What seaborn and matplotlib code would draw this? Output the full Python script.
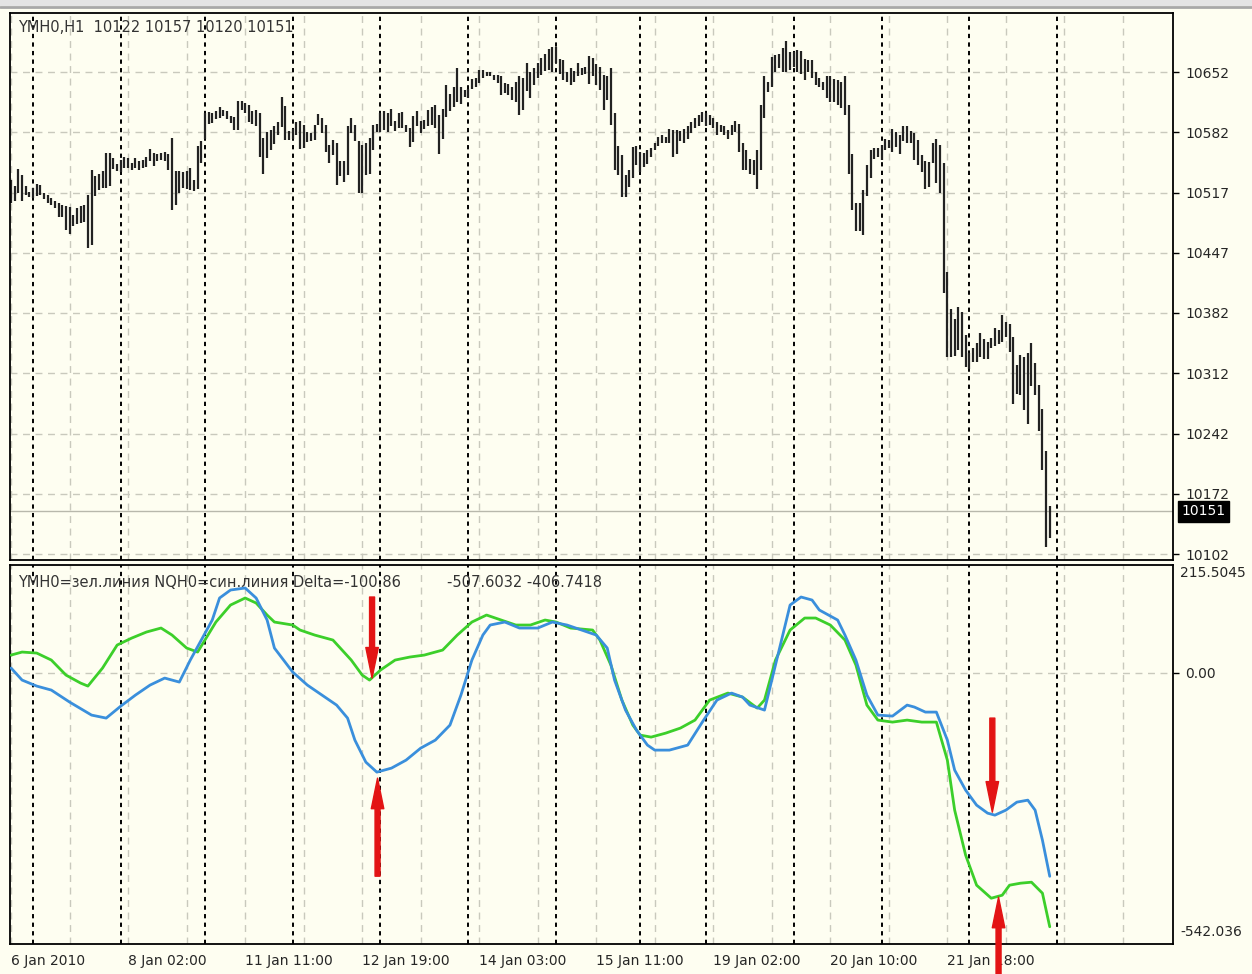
import numpy as np
import matplotlib
matplotlib.use('Agg')
import matplotlib.pyplot as plt
import matplotlib.transforms as mtransforms
import seaborn as sns

# ---------------------------------------------------------------------------
# data
# ---------------------------------------------------------------------------
# H1 bars of YMH0, one value per bar (bar index = position on the time axis)
bar_high = [
    10529, 10522, 10541, 10535, 10522, 10515, 10520, 10524, 10523, 10514,
    10512, 10508, 10505, 10502, 10500, 10499, 10498, 10489, 10497, 10499,
    10500, 10512, 10540, 10533, 10536, 10539, 10560, 10560, 10554, 10547,
    10552, 10555, 10554, 10548, 10554, 10550, 10552, 10555, 10564, 10560,
    10558, 10560, 10561, 10558, 10577, 10539, 10539, 10538, 10539, 10542,
    10529, 10567, 10573, 10605, 10606, 10605, 10608, 10612, 10609, 10607,
    10602, 10601, 10619, 10619, 10617, 10614, 10608, 10609, 10605, 10577,
    10584, 10586, 10590, 10595, 10623, 10613, 10585, 10587, 10595, 10596,
    10592, 10583, 10582, 10591, 10604, 10600, 10592, 10569, 10574, 10571,
    10550, 10550, 10590, 10600, 10591, 10573, 10569, 10571, 10577, 10591,
    10593, 10605, 10608, 10605, 10610, 10596, 10605, 10606, 10592, 10588,
    10602, 10608, 10596, 10597, 10609, 10612, 10614, 10603, 10610, 10637,
    10627, 10635, 10656, 10635, 10631, 10633, 10644, 10645, 10654, 10654,
    10652, 10652, 10649, 10649, 10648, 10639, 10638, 10635, 10641, 10648,
    10645, 10662, 10652, 10656, 10662, 10668, 10673, 10678, 10680, 10680,
    10667, 10666, 10652, 10656, 10653, 10662, 10657, 10658, 10670, 10668,
    10661, 10658, 10649, 10647, 10656, 10605, 10567, 10557, 10534, 10540,
    10566, 10567, 10561, 10560, 10563, 10565, 10571, 10578, 10580, 10578,
    10587, 10586, 10586, 10585, 10587, 10590, 10595, 10600, 10603, 10606,
    10605, 10603, 10600, 10595, 10591, 10590, 10586, 10591, 10596, 10593,
    10571, 10563, 10553, 10552, 10563, 10614, 10648, 10641, 10669, 10671,
    10673, 10679, 10687, 10675, 10675, 10677, 10676, 10667, 10666, 10666,
    10652, 10645, 10641, 10647, 10648, 10644, 10643, 10641, 10648, 10614,
    10558, 10502, 10502, 10517, 10546, 10563, 10565, 10565, 10569, 10576,
    10574, 10587, 10583, 10580, 10590, 10590, 10585, 10582, 10574, 10557,
    10550, 10549, 10571, 10576, 10569, 10548, 10424, 10381, 10370, 10384,
    10378, 10352, 10331, 10337, 10343, 10354, 10347, 10344, 10348, 10360,
    10358, 10375, 10367, 10364, 10350, 10318, 10329, 10327, 10331, 10343,
    10320, 10295, 10268, 10219, 10157,
]
bar_low = [
    10502, 10505, 10514, 10505, 10512, 10509, 10508, 10510, 10512, 10507,
    10502, 10500, 10497, 10486, 10486, 10472, 10467, 10476, 10479, 10480,
    10481, 10451, 10455, 10511, 10517, 10520, 10520, 10522, 10541, 10539,
    10538, 10543, 10543, 10540, 10542, 10540, 10543, 10544, 10550, 10545,
    10551, 10552, 10551, 10540, 10495, 10500, 10514, 10520, 10519, 10517,
    10516, 10519, 10548, 10575, 10593, 10594, 10598, 10600, 10602, 10598,
    10594, 10586, 10586, 10609, 10605, 10595, 10593, 10590, 10555, 10536,
    10554, 10563, 10570, 10580, 10589, 10574, 10574, 10576, 10580, 10564,
    10565, 10572, 10573, 10574, 10591, 10582, 10561, 10548, 10557, 10523,
    10533, 10526, 10534, 10582, 10573, 10514, 10514, 10534, 10536, 10563,
    10584, 10584, 10586, 10584, 10590, 10585, 10588, 10588, 10584, 10566,
    10572, 10590, 10582, 10587, 10590, 10592, 10588, 10559, 10576, 10601,
    10607, 10612, 10618, 10616, 10624, 10622, 10633, 10635, 10639, 10645,
    10647, 10647, 10643, 10639, 10626, 10628, 10626, 10620, 10618, 10603,
    10609, 10630, 10622, 10637, 10645, 10649, 10653, 10654, 10652, 10662,
    10650, 10643, 10641, 10637, 10641, 10648, 10649, 10650, 10638, 10647,
    10637, 10631, 10609, 10620, 10591, 10540, 10534, 10509, 10509, 10521,
    10531, 10546, 10538, 10544, 10547, 10555, 10563, 10567, 10571, 10571,
    10571, 10555, 10559, 10573, 10571, 10576, 10582, 10588, 10590, 10595,
    10590, 10592, 10588, 10580, 10584, 10580, 10576, 10580, 10584, 10561,
    10540, 10540, 10536, 10534, 10519, 10540, 10600, 10629, 10635, 10652,
    10656, 10652, 10652, 10654, 10658, 10652, 10650, 10643, 10652, 10645,
    10637, 10635, 10631, 10622, 10618, 10618, 10614, 10611, 10603, 10536,
    10495, 10470, 10470, 10466, 10510, 10531, 10553, 10555, 10552, 10563,
    10565, 10561, 10566, 10559, 10573, 10571, 10571, 10552, 10546, 10538,
    10519, 10521, 10548, 10525, 10514, 10400, 10327, 10327, 10328, 10335,
    10327, 10315, 10313, 10321, 10321, 10327, 10325, 10325, 10337, 10339,
    10342, 10344, 10350, 10333, 10273, 10285, 10283, 10266, 10250, 10294,
    10283, 10242, 10198, 10110, 10120,
]

# indicator window: YMH0 (green) and NQH0 (blue)
green_idx = [0, 3, 7, 11, 15, 19, 21, 25, 29, 33, 37, 41, 44, 48, 51, 53, 56, 60,
             64, 67, 70, 72, 77, 79, 83, 88, 90, 93, 96, 98, 101, 105, 109, 113,
             118, 122, 126, 130, 134, 138, 142, 146, 149, 153, 159, 161, 164, 167,
             170, 172, 175, 179, 183, 187, 191, 196, 200, 204, 206, 209, 213, 217,
             220, 224, 228, 231, 234, 237, 241, 245, 249, 253, 256, 258, 261, 264,
             268, 271, 273, 276, 279, 282, 284]
green_val = [35.5, 41.5, 39.5, 25.5, -4.5, -20.5, -26.5, 9.5, 55.5, 69.5,
             81.5, 89.5, 75.5, 49.5, 41.5, 65.5, 101.5, 135.5, 149.5, 139.5,
             115.5, 101.5, 95.5, 85.5, 75.5, 65.5, 49.5, 25.5, -4.5, -14.5,
             5.5, 25.5, 31.5, 35.5, 45.5, 75.5, 101.5, 115.5, 105.5, 95.5,
             95.5, 105.5, 101.5, 89.5, 85.5, 65.5, 15.5, -54.5, -104.5, -124.5,
             -128.5, -120.5, -110.5, -94.5, -54.5, -40.5, -48.5, -70.5, -54.5, 25.5,
             85.5, 109.5, 109.5, 95.5, 65.5, 15.5, -64.5, -94.5, -98.5, -94.5,
             -98.5, -98.5, -174.5, -274.5, -364.5, -424.5, -450.5, -444.5, -424.5, -420.5,
             -418.5, -440.5, -507.6032]

blue_idx = [0, 3, 7, 11, 16, 22, 26, 30, 34, 38, 42, 46, 49, 52, 55, 57, 60, 64,
            67, 70, 72, 77, 81, 85, 89, 92, 94, 97, 100, 104, 108, 112, 116, 120,
            123, 126, 129, 131, 135, 139, 144, 148, 152, 156, 160, 163, 165, 168,
            171, 174, 176, 180, 185, 189, 193, 197, 200, 202, 206, 208, 211, 213,
            216, 219, 221, 226, 228, 231, 234, 237, 241, 245, 247, 250, 253, 256,
            258, 261, 264, 267, 269, 272, 275, 278, 280, 282, 284]
blue_val = [9.5, -14.5, -26.5, -34.5, -58.5, -84.5, -90.5, -66.5, -44.5, -24.5,
            -10.5, -18.5, 25.5, 65.5, 105.5, 149.5, 165.5, 169.5, 149.5, 105.5,
            49.5, 1.5, -24.5, -44.5, -64.5, -90.5, -134.5, -178.5, -198.5, -190.5,
            -174.5, -150.5, -134.5, -104.5, -44.5, 25.5, 75.5, 95.5, 101.5, 89.5,
            89.5, 101.5, 95.5, 85.5, 75.5, 49.5, -14.5, -74.5, -114.5, -144.5,
            -154.5, -154.5, -144.5, -98.5, -54.5, -40.5, -48.5, -64.5, -74.5, -14.5,
            75.5, 135.5, 151.5, 145.5, 125.5, 105.5, 75.5, 25.5, -44.5, -84.5,
            -86.5, -64.5, -68.5, -78.5, -78.5, -134.5, -194.5, -234.5, -264.5, -280.5,
            -284.5, -274.5, -258.5, -254.5, -274.5, -334.5, -406.7418]

# day separators (bar index where a new day starts)
day_sep = [6, 30, 53, 77, 101, 125, 149, 172, 190, 214, 238, 262, 286]
date_ticks = [0, 32, 64, 96, 128, 160, 192, 224, 256]
date_labels = ['6 Jan 2010', '8 Jan 02:00', '11 Jan 11:00', '12 Jan 19:00',
               '14 Jan 03:00', '15 Jan 11:00', '19 Jan 02:00', '20 Jan 10:00',
               '21 Jan 18:00']
price_labels = ['10652', '10582', '10517', '10447', '10382', '10312', '10242', '10172', '10102']
price_top, price_bottom = 10652, 10102
ohlc_last = [10122, 10157, 10120, 10151]
ind_max, ind_min = 215.5045, -542.036

# red arrows on the indicator window: (bar index, tail value, tip value)
arrows = [(98.7, 151.5, -10.5), (100.2, -406.5, -210.5),
          (268.3, -90.5, -278.5), (270.0, -602.0, -448.5)]

# ---------------------------------------------------------------------------
bg = '#fefef1'
grid_col = '#c9c9bd'
txt_col = '#262626'
sns.set_theme(style='white', rc={'axes.facecolor': bg, 'figure.facecolor': bg,
                                 'axes.edgecolor': 'black'})
plt.rcParams['font.family'] = ['DejaVu Sans']

W, H = 1252, 974
fig = plt.figure(figsize=(W / 100, H / 100), dpi=100)
ax1 = fig.add_axes([10 / W, 1 - 560 / H, 1163 / W, 547 / H])
ax2 = fig.add_axes([10 / W, 1 - 944 / H, 1163 / W, 379 / H])

# window frame strip at the top
fig.add_artist(plt.Rectangle((0, 1 - 6 / H), 1, 6 / H, transform=fig.transFigure,
                             color='#e4e4e4', lw=0))
fig.add_artist(plt.Line2D([0, 1], [1 - 7 / H, 1 - 7 / H], transform=fig.transFigure,
                          color='#a8a8a8', lw=2))

xlim = (-0.3, 317.7)
grid_x = np.arange(0, 318, 16)

# ---------------- price panel ----------------
px_per_pt = 482 / (price_top - price_bottom)
ax1.set_xlim(*xlim)
ax1.set_ylim(price_bottom - 6 / px_per_pt, price_top + 59 / px_per_pt)
price_ticks = np.linspace(price_top, price_bottom, len(price_labels))

for p in price_ticks:
    ax1.axhline(p, color=grid_col, lw=1, ls=(0, (5, 4)), zorder=0.5)
for g in grid_x:
    ax1.axvline(g, color=grid_col, lw=1, ls=(0, (5, 4)), zorder=0.5)
for s in day_sep:
    ax1.axvline(s, color='black', lw=1.4, ls=(0, (2.2, 2.2)), zorder=1)
ax1.axhline(ohlc_last[3], color='#b8b8ac', lw=1, zorder=1)

idx = np.arange(len(bar_high))
ax1.vlines(idx, bar_low, bar_high, color='#222222', lw=1.6, zorder=2)

ax1.yaxis.tick_right()
ax1.set_yticks(price_ticks, labels=price_labels)
ax1.set_xticks([])
ax1.tick_params(axis='y', direction='out', length=4, width=1, color='black',
                labelsize=10, labelcolor=txt_col, pad=5)
ax1.text(0.0069, 0.9726, 'YMH0,H1  ' + ' '.join(str(v) for v in ohlc_last),
         transform=ax1.transAxes, fontsize=10.5, color='#333333', va='center')
trans1 = mtransforms.blended_transform_factory(ax1.transAxes, ax1.transData)
ax1.text(1.0075, ohlc_last[3], str(ohlc_last[3]), transform=trans1, color='white',
         fontsize=10, va='center', ha='left',
         bbox=dict(facecolor='black', edgecolor='black', boxstyle='square,pad=0.25'))

# ---------------- indicator panel ----------------
ax2.set_xlim(*xlim)
ax2.set_ylim(ind_min, ind_max)
ax2.axhline(0, color=grid_col, lw=1, ls=(0, (5, 4)), zorder=0.5)
for g in grid_x:
    ax2.axvline(g, color=grid_col, lw=1, ls=(0, (5, 4)), zorder=0.5)
for s in day_sep:
    ax2.axvline(s, color='black', lw=1.4, ls=(0, (2.2, 2.2)), zorder=1)

sns.lineplot(x=green_idx, y=green_val, ax=ax2, color='#3ccf2a', linewidth=2.0,
             estimator=None, sort=False, zorder=3)
sns.lineplot(x=blue_idx, y=blue_val, ax=ax2, color='#3a8fdc', linewidth=2.0,
             estimator=None, sort=False, zorder=3)

for x, y0, y1 in arrows:
    ax2.annotate('', xy=(x, y1), xytext=(x, y0), annotation_clip=False,
                 arrowprops=dict(arrowstyle='simple,head_length=1.1,head_width=0.45,tail_width=0.18',
                                 color='#e31414', mutation_scale=20, shrinkA=0, shrinkB=0),
                 zorder=5)

ax2.yaxis.tick_right()
ax2.set_yticks([0], labels=['0.00'])
ax2.set_ylabel('')
ax2.tick_params(axis='y', direction='out', length=4, width=1, color='black',
                labelsize=10, labelcolor=txt_col, pad=5)
ax2.text(1.006, 0.998, f'{ind_max}', transform=ax2.transAxes, fontsize=10,
         color=txt_col, va='top', ha='left')
ax2.text(1.006, 0.032, f'{ind_min}', transform=ax2.transAxes, fontsize=10,
         color=txt_col, va='center', ha='left')

ax2.set_xticks(date_ticks, labels=date_labels)
ax2.tick_params(axis='x', direction='out', length=4, width=1, color='black',
                labelsize=10, labelcolor=txt_col, pad=3)
for lab in ax2.get_xticklabels():
    lab.set_ha('left')

delta = green_val[-1] - blue_val[-1]
ax2.text(0.0069, 0.955, f'YMH0=зел.линия NQH0=син.линия Delta={delta:.2f}',
         transform=ax2.transAxes, fontsize=10.5, color='#333333', va='center', zorder=6)
ax2.text(0.3757, 0.955, f'{green_val[-1]:.4f} {blue_val[-1]:.4f}',
         transform=ax2.transAxes, fontsize=10.5, color='#333333', va='center', zorder=6)

for ax in (ax1, ax2):
    for sp in ax.spines.values():
        sp.set_color('black')
        sp.set_linewidth(1.3)

fig.savefig('out.png', dpi=100, facecolor=bg)
